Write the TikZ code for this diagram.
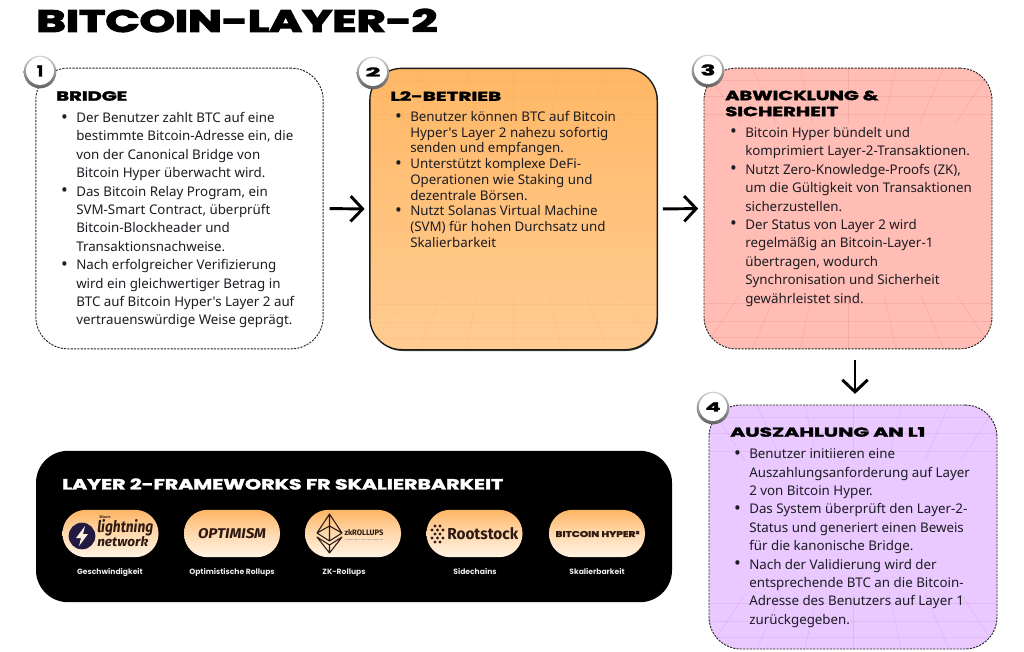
\documentclass[tikz,border=0pt]{standalone}
\usepackage{fontspec}
\usepackage{graphicx}
\usetikzlibrary{arrows.meta,calc}
\newfontfamily\bodyf{Noto Sans}
\newfontfamily\headf[BoldFeatures={FakeBold=2}]{Poppins}
\newfontfamily\titlef[BoldFeatures={FakeBold=3.5}]{Poppins}
\newfontfamily\labelf{Poppins}
\newfontfamily\logof{Fira Sans}
\newdimen\pxu \pxu=.75pt
\newcommand\fit[3]{\resizebox{#1\pxu}{#2\pxu}{#3}}
\newcommand\hd[3]{\fit{#1}{#2}{\headf\bfseries #3}}
\newcommand\bl{\leavevmode\llap{\raisebox{-.4pt}{\scalebox{1.35}{•}}\hspace{6.2pt}}}
\definecolor{ink}{HTML}{1C1C22}
\definecolor{logoink}{HTML}{2E1A12}
\definecolor{FFb}{HTML}{FFB765}
\definecolor{FFm}{HTML}{FFC27C}
\definecolor{FFc}{HTML}{FFCC92}
\definecolor{pinkf}{HTML}{FFBDB5}
\definecolor{lilac}{HTML}{E9C9FF}
\definecolor{navy}{HTML}{221A40}
\definecolor{orangetop}{HTML}{FDB565}
\definecolor{orangemid}{HTML}{FFD9AE}
\definecolor{orangelow}{HTML}{FFF3E4}
\newcommand\gridl[5]{%
  \begin{scope}
    \clip[rounded corners=22] (#1,#2) rectangle (#3,#4);
    \foreach \k in {-4,-3,...,4}{
      \draw[#5,line width=.4pt,opacity=.09] ({(#1+#3)/2+\k*(#3-#1)/6},#2) -- ({(#1+#3)/2+\k*(#3-#1)/8},{#2+55});
      \draw[#5,line width=.4pt,opacity=.09] ({(#1+#3)/2+\k*(#3-#1)/6},#4) -- ({(#1+#3)/2+\k*(#3-#1)/8},{#4-55});
    }
    \foreach \d in {12,28,46}{
      \draw[#5,line width=.4pt,opacity=.07] (#1,{#2+\d}) -- (#3,{#2+\d});
      \draw[#5,line width=.4pt,opacity=.07] (#1,{#4-\d}) -- (#3,{#4-\d});
    }
  \end{scope}}
\tikzset{
  box/.style={rectangle,rounded corners=24,inner sep=0,line width=.7pt,draw=black!85},
  dashedbox/.style={box,dash pattern=on 1.6pt off .9pt},
  ring/.style={circle,minimum size=24.5pt,inner sep=0,top color=black!18,bottom color=black!62},
  face/.style={circle,minimum size=21pt,inner sep=0,fill=white},
  body/.style={anchor=north west,inner sep=0,align=left,text=ink,font=\bodyf\fontsize{10}{13.8}\selectfont},
  body2/.style={anchor=north west,inner sep=0,align=left,text=ink,font=\bodyf\fontsize{10}{11.8}\selectfont},
  head/.style={anchor=west,inner sep=0,text=black},
  flow/.style={line width=2.2pt,black,-{Straight Barb[length=9pt,width=19pt,line width=2.2pt]}},
  pill/.style={rectangle,rounded corners=17.5,minimum width=72pt,minimum height=35.5pt,inner sep=0,
    top color=orangetop,bottom color=orangelow,middle color=orangemid},
  captext/.style={anchor=base,inner sep=0,text=white!92!black,font=\labelf\bfseries\fontsize{5.7}{6}\selectfont},
  logotxt/.style={inner sep=0,text=logoink}
}
\begin{document}
\begin{tikzpicture}[x=.75pt,y=-.75pt]
\useasboundingbox (0,0) rectangle (1024,651);
\fill[white] (0,0) rectangle (1024,651);
% title
\node[head] (title) at (36,20.5) {\fit{401}{23}{\titlef\bfseries BITCOIN-LAYER-2}};
% box 1
\node[dashedbox,fill=white,minimum width=215.5pt,minimum height=210.5pt] (b1) at (179.5,208.5) {};
% box 2
\fill[black!75,rounded corners=24] (371,70) rectangle (658,351);
\node[box,draw=black!90,line width=1pt,top color=FFb,bottom color=FFc,middle color=FFm,minimum width=215.5pt,minimum height=211pt] (b2) at (513.5,209) {};
% box 3
\node[dashedbox,fill=pinkf,minimum width=216pt,minimum height=210.5pt] (b3) at (848,208.5) {};
% box 4
\node[dashedbox,fill=lilac,minimum width=216pt,minimum height=183pt] (b4) at (853,527) {};
\gridl{370}{68}{657}{350}{brown}
\gridl{704}{68}{992}{349}{red!60!black}
\gridl{709}{405}{997}{649}{violet}
% arrows
\draw[flow,shorten <=4.5pt,shorten >=3.4pt] (b1.east) -- (b2.west);
\draw[flow,shorten <=3.7pt,shorten >=4pt] (b2.east) -- (b3.west);
\draw[flow,shorten <=8pt,shorten >=8pt] ([xshift=1.5pt]b4.north |- b3.south) -- ([xshift=1.5pt]b4.north);
% number badges
\foreach \n/\x/\y/\t/\w/\h in {a/40/72/1/6/11,c/373/73/2/15/9,e/708/71/3/15/11,g/713/408/4/15/9}{
  \node[ring] (ring\n) at (\x,\y) {};
  \node[face] (num\n) at ([yshift=.8pt]ring\n.center) {\hd{\w}{\h}{\t}};
}
% headings
\node[head] (h1) at (56,96) {\hd{71}{9.5}{BRIDGE}};
\node[head] (h2) at (390,96) {\hd{111}{9.5}{L2-BETRIEB}};
\node[head] (h3) at (725,95.5) {\hd{153}{9.5}{ABWICKLUNG \&}};
\node[head] (h3b) at (725,111.5) {\hd{113}{9.5}{SICHERHEIT}};
\node[head] (h4) at (730,432) {\hd{195}{9.5}{AUSZAHLUNG AN L1}};
% bodies
\node[body] (t1) at (76,112) {\bl Der Benutzer zahlt BTC auf eine\\bestimmte Bitcoin-Adresse ein, die\\von der Canonical Bridge von\\Bitcoin Hyper überwacht wird.\\\bl Das Bitcoin Relay Program, ein\\SVM-Smart Contract, überprüft\\Bitcoin-Blockheader und\\Transaktionsnachweise.\\\bl Nach erfolgreicher Verifizierung\\wird ein gleichwertiger Betrag in\\BTC auf Bitcoin Hyper's Layer 2 auf\\vertrauenswürdige Weise geprägt.};
\node[body2] (t2) at (410,111) {\bl Benutzer können BTC auf Bitcoin\\Hyper's Layer 2 nahezu sofortig\\senden und empfangen.\\\bl Unterstützt komplexe DeFi-\\Operationen wie Staking und\\dezentrale Börsen.\\\bl Nutzt Solanas Virtual Machine\\(SVM) für hohen Durchsatz und\\Skalierbarkeit};
\node[body] (t3) at (745,127) {\bl Bitcoin Hyper bündelt und\\komprimiert Layer-2-Transaktionen.\\\bl Nutzt Zero-Knowledge-Proofs (ZK),\\um die Gültigkeit von Transaktionen\\sicherzustellen.\\\bl Der Status von Layer 2 wird\\regelmäßig an Bitcoin-Layer-1\\übertragen, wodurch\\Synchronisation und Sicherheit\\gewährleistet sind.};
\node[body] (t4) at (749,448.5) {\bl Benutzer initiieren eine\\Auszahlungsanforderung auf Layer\\2 von Bitcoin Hyper.\\\bl Das System überprüft den Layer-2-\\Status und generiert einen Beweis\\für die kanonische Bridge.\\\bl Nach der Validierung wird der\\entsprechende BTC an die Bitcoin-\\Adresse des Benutzers auf Layer 1\\zurückgegeben.};
% black panel
\node[rectangle,rounded corners=24,fill=black,minimum width=477pt,minimum height=113.5pt,inner sep=0] (panel) at (354,526.5) {};
\node[head,text=white] (ptitle) at (62,484) {\hd{441}{11}{LAYER 2-FRAMEWORKS FR SKALIERBARKEIT}};
% pills
\node[pill] (p1) at (110.5,533.5) {};
\node[pill] (p2) at (232,533.5) {};
\node[pill] (p3) at (353,533.5) {};
\node[pill] (p4) at (474.5,533.5) {};
\node[pill] (p5) at (597,533.5) {};
% logos
\node[circle,fill=navy,minimum size=20pt,inner sep=0] (lnc) at (82,536) {};
\fill[orangelow] (85,526) -- (76,538) -- (81,538) -- (79,546) -- (88,534) -- (83,534) -- cycle;
\node[logotxt] (lnb) at (105,517) {\fit{11}{3}{\logof\bfseries Bitcoin}};
\node[logotxt,anchor=west] (ln1) at (97,527.5) {\fit{56}{13}{\logof\itshape\bfseries lightning}};
\node[logotxt,anchor=west] (ln2) at (97,542) {\fit{51}{10}{\logof\itshape\bfseries network}};
\node[logotxt] (op) at (232,534) {\fit{68}{10}{\logof\itshape\bfseries OPTIMISM}};
\draw[logoink,line width=.8pt,line join=round] (329.5,514) -- (317,533) -- (329.5,541) -- (342,533) -- cycle (329.5,514) -- (329.5,541) (317,533) -- (329.5,526) -- (342,533)
  (317,537) -- (329.5,553) -- (342,537) -- (329.5,545) -- cycle (329.5,545) -- (329.5,553);
\node[logotxt] (zk) at (364,533) {\fit{39}{6}{\logof\bfseries zkROLLUPS}};
\draw[gray!55,line width=.8pt,dash pattern=on 1pt off .3pt] (345,539.5) -- (383,539.5);
\foreach \dx/\dy in {3/-4,8/-4,0/0,5.5/0,11/0,3/4,8/4,0/8,5.5/8,11/8,3/12,8/12}
  \fill[logoink] (432+\dx,530+\dy) circle[radius=1.7];
\node[logotxt,anchor=west] (rs) at (447,533.5) {\fit{71}{12}{\logof\bfseries Rootstock}};
\node[logotxt] (bh) at (597.5,534) {\fit{84}{6}{\headf\bfseries BITCOIN HYPER²}};
% captions
\node[captext] (c1) at (110,574) {Geschwindigkeit};
\node[captext] (c2) at (232,574) {Optimistische Rollups};
\node[captext] (c3) at (344,574) {ZK-Rollups};
\node[captext] (c4) at (475,574) {Sidechains};
\node[captext] (c5) at (597,574) {Skalierbarkeit};
\end{tikzpicture}
\end{document}
